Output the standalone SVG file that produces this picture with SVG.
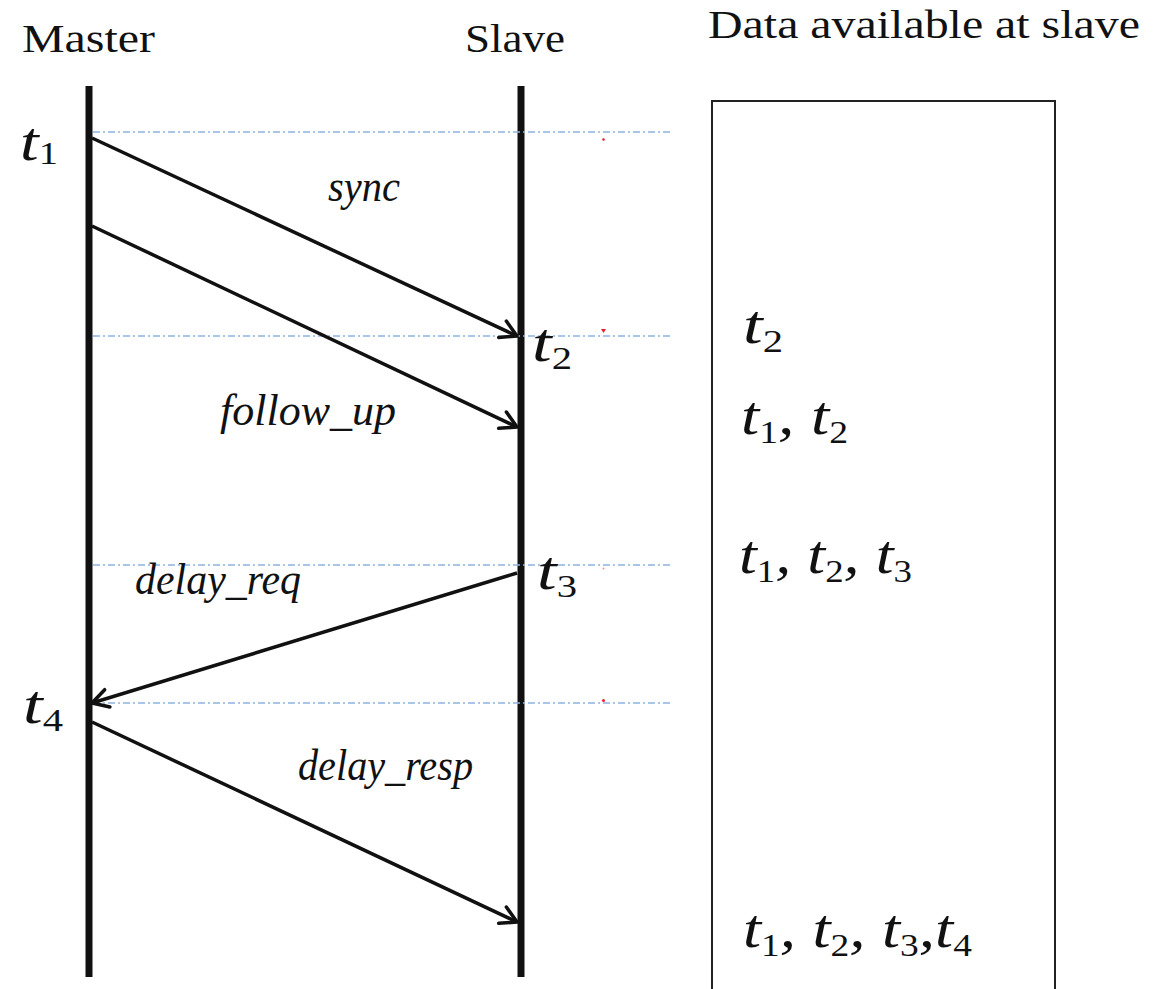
<svg xmlns="http://www.w3.org/2000/svg" width="1155" height="989" viewBox="0 0 1155 989">
<style>
.hdr{font-family:"Liberation Serif","DejaVu Serif",serif;font-size:41px;fill:#111}
.lbl{font-family:"Liberation Serif","DejaVu Serif",serif;font-style:italic;font-size:44px;fill:#111}
.m{font-family:"Liberation Serif","DejaVu Serif",serif;font-style:italic;font-size:54px;fill:#111}
.s{font-style:normal;font-size:31px}
.life{stroke:#111;stroke-width:7}
.dd{stroke:#8db3df;stroke-width:1.3;stroke-dasharray:7 3 2 3;fill:none}
.msg{stroke:#111;stroke-width:3.5;fill:none;marker-end:url(#ah)}
.red{fill:#e8202a}
</style>
<defs>
<marker id="ah" markerUnits="userSpaceOnUse" viewBox="-20 -12 24 24" refX="0" refY="0" markerWidth="24" markerHeight="24" orient="auto">
<path d="M-16,-9 L0,0 L-16,9" fill="none" stroke="#111" stroke-width="3.5" stroke-linecap="round" stroke-linejoin="round"/>
</marker>
</defs>
<rect width="1155" height="989" fill="#fff"/>
<g id="headers">
<text class="hdr" x="22" y="52" textLength="133" lengthAdjust="spacingAndGlyphs">Master</text>
<text class="hdr" x="465" y="52" textLength="100" lengthAdjust="spacingAndGlyphs">Slave</text>
<text class="hdr" x="708" y="38" textLength="432" lengthAdjust="spacingAndGlyphs">Data available at slave</text>
</g>
<g id="master">
<line class="life" x1="89" y1="86" x2="89" y2="977"/>
</g>
<g id="slave">
<line class="life" x1="521" y1="86" x2="521" y2="977"/>
</g>
<g id="guides">
<line class="dd" x1="93" y1="132" x2="670" y2="132"/>
<line class="dd" x1="93" y1="336" x2="670" y2="336"/>
<line class="dd" x1="93" y1="565" x2="670" y2="565"/>
<line class="dd" x1="93" y1="703" x2="670" y2="703"/>
<circle class="red" cx="603.5" cy="139.5" r="1.3"/>
<path class="red" d="M601,329 L606,329 L603.5,333 Z"/>
<circle class="red" cx="603.5" cy="568.5" r="1" opacity="0.5"/>
<circle class="red" cx="603.5" cy="700.5" r="1.5"/>
</g>
<g id="connectors">
<line class="msg" x1="92" y1="138" x2="517" y2="336"/>
<line class="msg" x1="92" y1="226" x2="517" y2="427"/>
<line class="msg" x1="517" y1="573" x2="92" y2="703"/>
<line class="msg" x1="92" y1="722" x2="517" y2="922"/>
</g>
<g id="labels">
<text class="lbl" x="328" y="201" textLength="72" lengthAdjust="spacingAndGlyphs">sync</text>
<text class="lbl" x="220" y="425" textLength="176" lengthAdjust="spacingAndGlyphs">follow_up</text>
<text class="lbl" x="135" y="594" textLength="166" lengthAdjust="spacingAndGlyphs">delay_req</text>
<text class="lbl" x="298" y="780" textLength="175" lengthAdjust="spacingAndGlyphs">delay_resp</text>
</g>
<g id="timestamps">
<text class="m" x="20" y="160" textLength="38" lengthAdjust="spacingAndGlyphs">t<tspan class="s" dy="4">1</tspan></text>
<text class="m" x="532" y="361" textLength="40" lengthAdjust="spacingAndGlyphs">t<tspan class="s" dy="8">2</tspan></text>
<text class="m" x="537" y="589" textLength="40" lengthAdjust="spacingAndGlyphs">t<tspan class="s" dy="8">3</tspan></text>
<text class="m" x="23" y="723" textLength="40" lengthAdjust="spacingAndGlyphs">t<tspan class="s" dy="8">4</tspan></text>
</g>
<g id="data-box">
<rect x="712" y="101" width="343" height="900" fill="none" stroke="#222" stroke-width="2"/>
<text class="m" x="743" y="343" textLength="40" lengthAdjust="spacingAndGlyphs">t<tspan class="s" dy="9">2</tspan></text>
<text class="m" x="741" y="434" textLength="107" lengthAdjust="spacingAndGlyphs">t<tspan class="s" dy="9">1</tspan><tspan dy="-9">, t</tspan><tspan class="s" dy="9">2</tspan></text>
<text class="m" x="739" y="573" textLength="173" lengthAdjust="spacingAndGlyphs">t<tspan class="s" dy="9">1</tspan><tspan dy="-9">, t</tspan><tspan class="s" dy="9">2</tspan><tspan dy="-9">, t</tspan><tspan class="s" dy="9">3</tspan></text>
<text class="m" x="743" y="947" textLength="229" lengthAdjust="spacingAndGlyphs">t<tspan class="s" dy="9">1</tspan><tspan dy="-9">, t</tspan><tspan class="s" dy="9">2</tspan><tspan dy="-9">, t</tspan><tspan class="s" dy="9">3</tspan><tspan dy="-9">,t</tspan><tspan class="s" dy="9">4</tspan></text>
</g>
</svg>
